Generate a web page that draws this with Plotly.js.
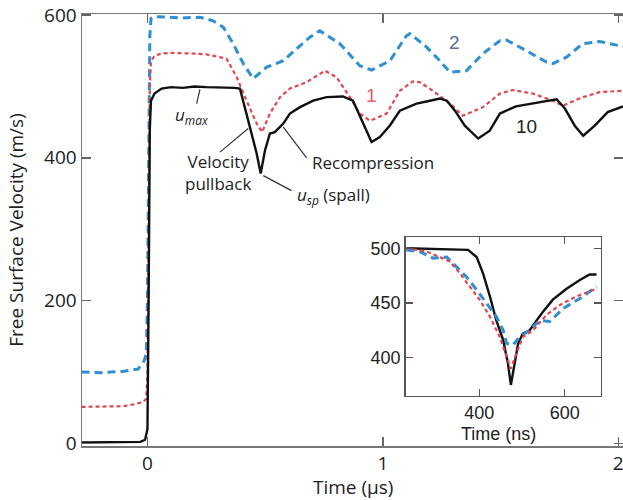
<!DOCTYPE html>
<html>
<head>
<meta charset="utf-8">
<script src="https://cdn.plot.ly/plotly-3.0.1.min.js"></script>
<style>html,body{margin:0;padding:0;background:#fff;}#chart{width:623px;height:500px;}</style>
</head>
<body>
<div id="chart"></div>
<script>
// Main panel: time (µs) and free surface velocity (m/s), curves as plotted (offset for clarity)
const t10 = [-0.28,-0.2,-0.1,-0.03,-0.01,0.0,0.005,0.01,0.015,0.03,0.06,0.1,0.15,0.2,0.25,0.3,0.37,0.393,0.435,0.464,0.481,0.499,0.52,0.541,0.577,0.605,0.648,0.704,0.761,0.788,0.83,0.873,0.911,0.952,0.987,1.029,1.072,1.143,1.2,1.242,1.272,1.306,1.348,1.405,1.454,1.497,1.565,1.637,1.709,1.738,1.773,1.815,1.851,1.9,1.955,2.02];
const v10 = [1,1,1,2,5,20,200,440,480,490,497,499,498,500,499,499,498,497,443,406,378,410,434,436,448,462,471,480,485,485,486,480,452,422,429,445,466,476,480,483,480,466,445,427,438,462,472,476,481,482,469,445,431,445,464,472];

const t1 = [-0.28,-0.2,-0.1,-0.05,-0.02,-0.005,0.0,0.005,0.01,0.015,0.03,0.06,0.1,0.2,0.25,0.336,0.379,0.421,0.464,0.487,0.52,0.563,0.605,0.676,0.745,0.754,0.803,0.86,0.902,0.945,1.016,1.072,1.127,1.157,1.212,1.285,1.34,1.425,1.497,1.552,1.637,1.722,1.764,1.849,1.921,2.02];
const v1 = [51,51,52,55,58,62,100,300,500,535,543,546,547,546,545,539,513,480,448,436,462,485,497,506,521,522,513,485,462,452,462,494,507,506,494,476,459,471,490,495,490,480,473,485,492,494];

const t2 = [-0.28,-0.2,-0.1,-0.04,-0.015,-0.005,0.0,0.005,0.01,0.015,0.03,0.08,0.15,0.223,0.279,0.322,0.364,0.407,0.449,0.506,0.577,0.648,0.69,0.732,0.817,0.902,0.952,1.03,1.1,1.115,1.186,1.242,1.285,1.355,1.425,1.497,1.525,1.61,1.695,1.722,1.78,1.849,1.921,2.02];
const v2 = [100,99,101,104,115,125,200,450,570,595,598,597,596,597,592,583,560,532,511,527,536,557,569,578,560,529,523,536,571,574,555,536,520,522,546,564,565,550,534,532,541,560,563,556];

// Inset: time (ns) and velocity (m/s), unshifted
const n10 = [230,300,374,394,409,425,440,456,467,474,483,491,502,518,534,549,572,604,635,658,674];
const w10 = [500,499,498.5,492,477,456,434,416,395,375,395,413,422,425,434,442,453,463,471,476,476];
const n1 = [230,277,308,331,355,378,401,425,448,464,474,487,502,526,557,588,627,674];
const w1 = [500,497,492,488,477,465,453,437.5,419,401,390,404,419,425,439,448,456,463];
const n2 = [230,261,292,324,347,370,394,417,440,456,464,479,495,518,541,565,596,635,674];
const w2 = [498.5,497,491,492,483,474,462,450,437.5,425,413,411.6,419,425,434,433,445,454,465];

const mainXTicks = [0,1,2];
const mainYTicks = [0,200,400,600];
const insetXTicks = [400,600];
const insetYTicks = [400,450,500];

// Curve labels
const curveLabels = ['10','1','2'];
const curveLabelT = [1.61,0.952,1.306];
const curveLabelV = [444,487,562];
const curveLabelColors = ['#222222','#e65a6a','#5868a8'];

// Callout texts and their leader lines
const calloutText = ['<i>u</i><sub><i>max</i></sub>','Velocity<br>pullback','<i>u</i><sub><i>sp</i></sub> (spall)','Recompression'];
const calloutT = [0.189,0.299,0.626,0.69];
const calloutV = [459,380,347,393];
const calloutAnchor = ['center','center','left','left'];
const leaderT0 = [0.209,0.308,0.492,0.577];
const leaderV0 = [476,408,375,443];
const leaderT1 = [0.223,0.428,0.612,0.676];
const leaderV1 = [496,441,354,400];

const blue = '#2f8fd2', red = '#e0474f', black = '#111111';
const mainFont = '"Open Sans", "Noto Sans", sans-serif';
const insetFont = '"Liberation Sans", Arial, sans-serif';

const traces = [
  {x:t2, y:v2, xaxis:'x', yaxis:'y', mode:'lines', line:{color:blue, width:3, dash:'8px,5px'}, hoverinfo:'skip'},
  {x:t1, y:v1, xaxis:'x', yaxis:'y', mode:'lines', line:{color:red, width:2.2, dash:'4px,3px'}, hoverinfo:'skip'},
  {x:t10, y:v10, xaxis:'x', yaxis:'y', mode:'lines', line:{color:black, width:2.4}, hoverinfo:'skip'},
  {x:n10, y:w10, xaxis:'x2', yaxis:'y2', mode:'lines', line:{color:black, width:2.4}, hoverinfo:'skip'},
  {x:n2, y:w2, xaxis:'x2', yaxis:'y2', mode:'lines', line:{color:blue, width:3, dash:'8px,5px'}, hoverinfo:'skip'},
  {x:n1, y:w1, xaxis:'x2', yaxis:'y2', mode:'lines', line:{color:red, width:2.2, dash:'4px,3px'}, hoverinfo:'skip'}
];

const annotations = [];
for (let i = 0; i < curveLabels.length; i++) {
  annotations.push({x:curveLabelT[i], y:curveLabelV[i], xref:'x', yref:'y', text:curveLabels[i], showarrow:false,
    font:{family:insetFont, size:19, color:curveLabelColors[i]}});
}
for (let i = 0; i < calloutText.length; i++) {
  annotations.push({x:calloutT[i], y:calloutV[i], xref:'x', yref:'y', text:calloutText[i], showarrow:false,
    xanchor:calloutAnchor[i], align:'center', font:{family:mainFont, size:17, color:'#222'}});
}
// Axis titles for the x axes, placed as paper annotations for exact positioning
annotations.push({x:0.5, y:-0.095, xref:'paper', yref:'paper', text:'Time (µs)', showarrow:false,
  xanchor:'center', yanchor:'middle', font:{family:mainFont, size:19, color:'#222'}});
annotations.push({x:0.77, y:0.028, xref:'paper', yref:'paper', text:'Time (ns)', showarrow:false,
  xanchor:'center', yanchor:'middle', font:{family:insetFont, size:18, color:'#222'}});

const shapes = [];
for (let i = 0; i < leaderT0.length; i++) {
  shapes.push({type:'line', xref:'x', yref:'y', x0:leaderT0[i], y0:leaderV0[i], x1:leaderT1[i], y1:leaderV1[i],
    line:{color:'#333', width:1.2}});
}

const layout = {
  width:623, height:500,
  margin:{l:82, r:0, t:14, b:54},
  paper_bgcolor:'#fff', plot_bgcolor:'rgba(0,0,0,0)',
  showlegend:false,
  font:{family:mainFont, size:19, color:'#222'},
  xaxis:{domain:[0,1], range:[-0.278,2.02], tickvals:mainXTicks, ticktext:mainXTicks.map(String),
    ticks:'inside', ticklen:9, tickwidth:1.5, tickcolor:'#666', showline:true, linecolor:'#777', linewidth:1.5, mirror:'ticks',
    showgrid:false, zeroline:false, ticklabeloverflow:'allow', tickfont:{family:mainFont, size:19, color:'#222'}},
  yaxis:{domain:[0,1], range:[-3.8,601.5], tickvals:mainYTicks, ticktext:mainYTicks.map(String),
    ticks:'inside', ticklen:9, tickwidth:1.5, tickcolor:'#666', showline:true, linecolor:'#777', linewidth:1.5, mirror:'ticks',
    showgrid:false, zeroline:false, ticklabeloverflow:'allow', tickfont:{family:mainFont, size:19, color:'#222'},
    title:{text:'Free Surface Velocity (m/s)', font:{family:mainFont, size:19, color:'#222'}, standoff:15}},
  xaxis2:{domain:[0.598,0.959], anchor:'y2', range:[228,684], tickvals:insetXTicks, ticktext:insetXTicks.map(String),
    ticks:'inside', ticklen:7, tickwidth:1.2, tickcolor:'#555', showline:true, linecolor:'#555', linewidth:1.3, mirror:'ticks',
    showgrid:false, zeroline:false, tickfont:{family:insetFont, size:18, color:'#222'}},
  yaxis2:{domain:[0.116,0.483], anchor:'x2', range:[365,510], tickvals:insetYTicks, ticktext:insetYTicks.map(String),
    ticks:'inside', ticklen:7, tickwidth:1.2, tickcolor:'#555', showline:true, linecolor:'#555', linewidth:1.3, mirror:'ticks',
    showgrid:false, zeroline:false, tickfont:{family:insetFont, size:18, color:'#222'}},
  annotations:annotations,
  shapes:shapes
};

Plotly.newPlot('chart', traces, layout, {staticPlot:true, displayModeBar:false});
</script>
</body>
</html>
